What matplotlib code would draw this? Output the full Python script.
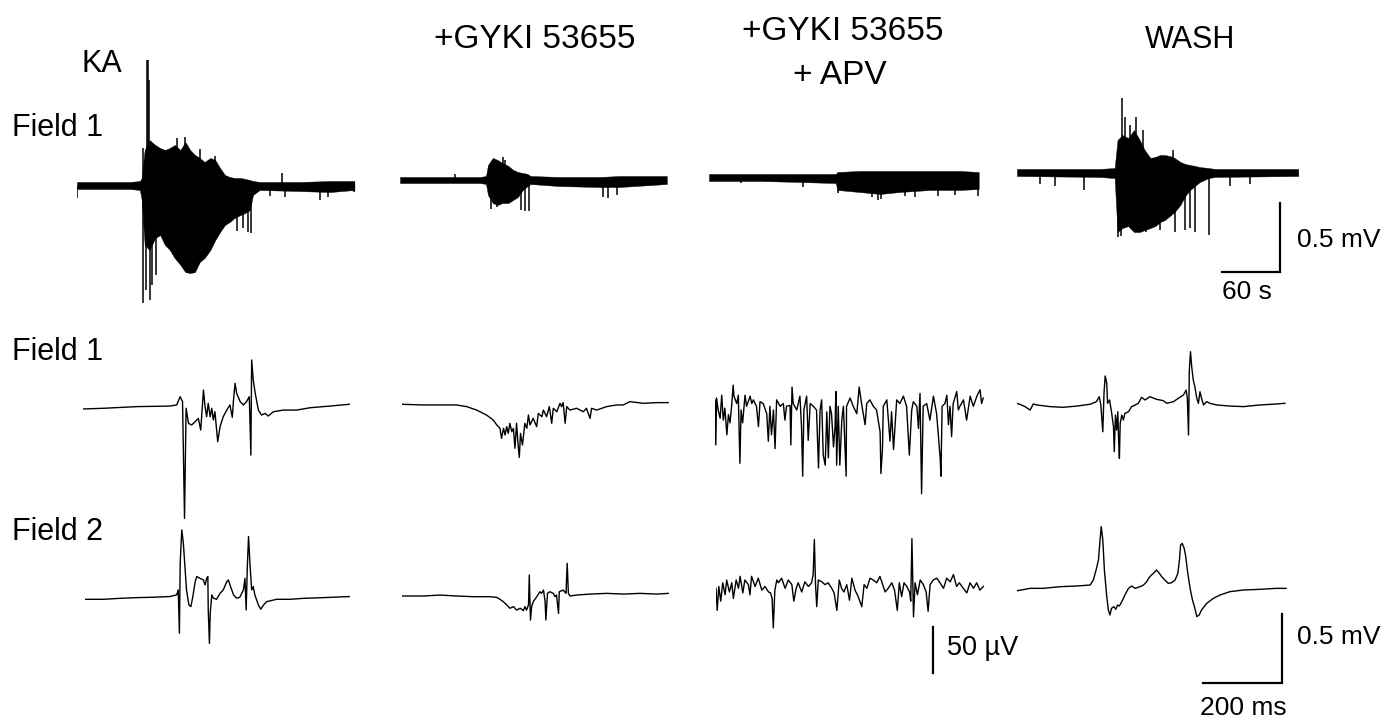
import numpy as np
import matplotlib.pyplot as plt

plt.rcParams['font.family'] = ['Liberation Sans', 'DejaVu Sans']

# ---- top row: slow recordings (time s, field potential uV) ----
# envelope of the dense trace + single large deflections
ka1_t = [0, 24, 55, 65, 67, 70, 75, 81, 86, 91, 96, 101, 107, 112, 117, 122, 127, 132, 138, 143,
         148, 153, 158, 163, 169, 174, 179, 182, 189, 231, 262, 287]
ka1_hi = [22, 22, 22, 29, 51, 254, 326, 290, 268, 254, 268, 290, 254, 312, 254, 218, 196, 167, 196, 181,
          123, 73, 58, 51, 51, 44, 36, 29, 22, 22, 29, 29]
ka1_lo = [-29, -29, -29, -36, -109, -435, -471, -384, -363, -435, -471, -529, -580, -631, -638, -631, -558, -529, -471, -399,
          -341, -290, -268, -239, -218, -203, -181, -73, -36, -44, -51, -36]
ka1_spk_t = [72.5, 73.5, 74.5, 68, 71, 75.5, 77.5, 82, 68, 103, 112, 127, 143, 212, 166, 172, 177, 180, 0, 200, 215, 251, 260, 287]
ka1_spk_v = [906, 906, 761, -856, -761, -834, -725, -653, 268, 341, 348, 261, 210, 87, -333, -312, -341, -348, -94, -80, -87, -109, -87, -51]

gy1_t = [0, 83, 89, 91, 96, 101, 106, 112, 117, 122, 127, 132, 135, 165, 207, 227, 276]
gy1_hi = [22, 22, 29, 109, 160, 145, 123, 102, 73, 58, 51, 44, 29, 22, 22, 29, 29]
gy1_lo = [-22, -22, -29, -109, -167, -181, -167, -167, -145, -123, -73, -44, -29, -44, -51, -51, -29]
gy1_spk_t = [94, 100, 106.5, 109, 125, 129, 133, 210, 215, 224, 57]
gy1_spk_v = [-210, -196, 167, 145, -218, -225, -225, -123, -131, -109, 44]

apv1_t = [0, 53, 94, 131, 133, 156, 177, 197, 229, 260, 279]
apv1_hi = [22, 22, 22, 22, 36, 44, 44, 44, 44, 44, 36]
apv1_lo = [-29, -29, -36, -44, -94, -109, -123, -109, -94, -94, -87]
apv1_spk_t = [97, 133, 169, 175, 178, 203, 213, 237, 254, 278, 33]
apv1_spk_v = [-73, -116, -145, -167, -160, -138, -145, -138, -131, -138, -44]

wash1_t = [0, 86, 101, 104, 109, 115, 121, 127, 132, 138, 143, 148, 153, 158, 163, 169, 174, 179, 184, 189, 198, 205, 291]
wash1_hi = [22, 22, 29, 232, 268, 246, 304, 232, 160, 102, 109, 123, 123, 116, 102, 73, 58, 51, 44, 36, 29, 22, 22]
wash1_lo = [-29, -36, -44, -435, -406, -392, -435, -435, -421, -406, -392, -363, -348, -319, -290, -239, -174, -131, -102, -73, -44, -36, -29]
wash1_spk_t = [109, 112, 123, 117, 130, 104, 108, 133, 148, 163, 174, 179, 184, 199, 69, 39, 24, 220, 241, 161]
wash1_spk_v = [537, 399, 399, 341, 304, -471, -464, -435, -421, -435, -421, -406, -435, -457, -131, -101, -87, -101, -87, 160]

# ---- rows 2-3: single events (time ms, uV) ----
ka2_t = [0, 52, 136, 220, 237, 246, 252, 257, 261, 267, 275, 284, 292, 298, 305, 309, 313, 317, 322, 326,
         330, 334, 341, 347, 355, 364, 372, 378, 381, 385, 389, 398, 406, 414, 421, 425, 427, 431, 436, 444,
         452, 461, 469, 482, 507, 541, 575, 625, 674]
ka2_v = [-7, -2, 10, 14, 22, 82, 46, -800, -2, -111, -123, -99, -75, -160, 130, 10, -63, 34, -63, -2,
         -87, -27, -244, -135, -63, -15, 22, -68, 58, 179, 106, 46, 22, 46, 82, -341, 348, 203, 106, -15,
         -51, -39, -58, -27, -15, -15, 2, 14, 27]

gy2_t = [0, 54, 96, 138, 164, 189, 214, 231, 240, 248, 252, 257, 261, 265, 269, 273, 278, 282, 286, 290,
         294, 297, 300, 305, 311, 316, 320, 324, 332, 341, 345, 354, 358, 366, 373, 379, 383, 392, 400, 404,
         408, 413, 417, 425, 442, 459, 467, 476, 480, 493, 518, 543, 560, 577, 611, 645, 674]
gy2_v = [-2, -7, -7, -7, -19, -44, -80, -116, -152, -176, -249, -176, -225, -164, -213, -140, -201, -176, -321, -140,
         -297, -387, -213, -297, -140, -176, -80, -152, -104, -164, -68, -92, -44, -92, -19, -140, -31, -56, 5, -19,
         10, -140, -19, -44, -31, -56, -31, -104, -31, -44, -19, -7, -7, 17, 5, 10, 10]

apv2_t = [0, 2, 4, 8, 13, 17, 21, 25, 30, 34, 38, 42, 46, 48, 55, 59, 63, 66, 70, 76,
          80, 89, 93, 97, 105, 110, 114, 122, 131, 135, 139, 143, 148, 152, 156, 165, 173, 177, 181, 190,
          192, 195, 198, 207, 215, 219, 222, 225, 232, 236, 241, 249, 257, 262, 266, 270, 274, 279, 283, 287,
          291, 295, 300, 304, 306, 308, 312, 316, 321, 325, 332, 333, 342, 350, 359, 365, 371, 380, 384, 392,
          401, 409, 418, 420, 424, 426, 435, 443, 447, 452, 460, 468, 477, 485, 492, 498, 502, 511, 515, 519,
          523, 527, 536, 544, 553, 561, 565, 570, 572, 575, 582, 587, 591, 595, 599, 603, 612, 616, 620, 629,
          637, 646, 654, 663, 671, 675, 679]
apv2_v = [2, -47, 4, -9, -18, 7, -20, -7, -36, -14, -23, -5, 18, 6, -2, 7, -67, -9, -23, 7,
          -5, 6, -2, 2, -5, -27, 0, -2, -13, -43, -5, -36, -9, -51, 2, -5, -2, -20, -5, -4,
          -47, 16, -2, -9, 6, -27, -81, -9, 6, -42, -2, -5, -9, -72, -9, 2, -58, -69, -11, -61,
          -5, -13, -49, -27, 11, -69, -5, -69, -20, -5, -81, -5, 4, -5, -13, 16, -2, -25, -2, 2,
          -5, -9, -33, -78, -51, -5, 2, -43, -11, -52, 2, -2, 6, -5, -58, -9, 0, -5, -29, 9,
          -100, -5, -2, -20, 6, -13, -34, -61, -81, -5, -2, 7, -25, -5, -38, -2, 11, -9, -5, 2,
          -20, 6, -5, 6, 13, -2, 4]

wash2_t = [0, 8, 21, 34, 42, 51, 84, 118, 152, 186, 202, 209, 213, 218, 221, 224, 228, 230, 235, 240,
           245, 247, 250, 253, 256, 258, 260, 262, 266, 270, 274, 283, 291, 300, 308, 316, 325, 337, 354, 371,
           380, 397, 409, 422, 429, 432, 435, 437, 440, 443, 447, 451, 456, 460, 464, 468, 473, 481, 489, 506,
           540, 574, 616, 658, 679]
wash2_v = [0, -7, -24, -49, -5, -12, -24, -29, -20, -7, 12, 48, -12, -206, 72, 198, 145, 0, 24, -61,
           -169, -351, -85, -194, -61, -266, -399, -145, -85, -121, -73, -61, -24, -12, 0, 43, 24, 48, 29, 19,
           0, 12, 36, 60, 96, 36, -230, 241, 374, 266, 169, 121, 36, 0, 84, 36, -12, 12, 0, -12,
           -20, -24, -12, -5, 0]

ka3_t = [0, 46, 89, 131, 173, 215, 232, 236, 239, 241, 245, 249, 253, 257, 263, 268, 273, 279, 283, 291,
         300, 304, 308, 311, 312, 315, 317, 321, 325, 333, 342, 350, 359, 363, 367, 376, 384, 392, 401, 405,
         408, 411, 414, 418, 422, 426, 430, 439, 445, 452, 460, 485, 519, 553, 603, 669]
ka3_v = [0, 0, 7, 12, 15, 20, 32, 68, -246, 261, 503, 406, 237, 68, -41, -53, 20, 128, 165, 152,
         140, 104, 152, 165, -77, -319, -101, 32, 8, 0, 44, 68, 128, 140, 104, 32, 8, 15, 68, 152,
         -77, 237, 455, 237, 68, 92, 32, -41, -72, -41, -17, 0, 0, 7, 12, 20]

gy3_t = [0, 55, 97, 139, 181, 224, 241, 249, 257, 266, 274, 283, 291, 300, 308, 312, 316, 321, 323, 326,
         329, 333, 342, 350, 354, 359, 363, 365, 369, 375, 384, 388, 392, 397, 399, 409, 416, 419, 422, 426,
         443, 477, 519, 561, 603, 646, 675]
gy3_v = [0, 0, 7, 0, -5, -5, -10, -24, -41, -65, -89, -77, -102, -89, -106, -77, -102, -65, 152, -174,
         -77, -41, -5, 31, 19, 43, -41, -174, 19, 31, 19, -5, 7, -126, 31, 43, 19, 237, 19, 0,
         7, 14, 19, 14, 19, 14, 19]

apv3_t = [0, 3, 7, 12, 17, 23, 27, 34, 40, 44, 51, 57, 61, 68, 73, 82, 86, 90, 99, 107,
          116, 124, 133, 138, 142, 145, 149, 154, 158, 166, 175, 183, 192, 197, 203, 208, 217, 225, 234, 242,
          246, 249, 252, 255, 259, 268, 276, 284, 293, 299, 306, 312, 318, 324, 331, 338, 344, 352, 360, 369,
          375, 382, 390, 398, 407, 415, 422, 428, 436, 445, 452, 459, 464, 470, 476, 483, 490, 493, 496, 500,
          504, 510, 517, 525, 532, 537, 542, 550, 559, 567, 576, 584, 593, 601, 609, 616, 626, 635, 643, 652,
          660, 668, 677]
apv3_v = [0, -24, 2, -14, 6, -7, 9, -4, 6, -11, 9, 0, 13, -5, 9, 4, -7, 13, 2, 11,
          -2, 2, -4, -5, -11, -43, -2, 9, 6, 11, 0, 9, 4, -14, 0, 6, -4, 7, 2, 6,
          15, 53, 4, -20, 9, 7, 4, 6, 0, -5, -24, 9, 0, -4, 4, -13, 11, -2, -9, -20,
          4, 0, 11, 9, 6, 13, 4, -4, 0, 6, -2, -24, 6, -9, 6, 2, -4, -14, 54, -31,
          6, -7, 9, 4, -4, -25, 4, 9, 11, 6, 0, 11, 7, 15, 2, 6, 0, -5, 6, 0,
          6, -2, 2]

wash3_t = [0, 34, 67, 110, 152, 186, 194, 201, 207, 211, 214, 218, 222, 228, 232, 236, 240, 246, 251, 255,
           260, 266, 274, 283, 291, 300, 312, 321, 329, 337, 346, 354, 361, 367, 375, 384, 392, 401, 408, 412,
           415, 419, 424, 428, 432, 439, 445, 450, 456, 462, 468, 481, 498, 515, 540, 574, 616, 658, 682]
wash3_v = [-6, 12, 12, 24, 29, 36, 72, 145, 217, 362, 459, 362, 145, -48, -145, -181, -133, -121, -140, -109,
           -116, -85, -36, 12, 29, 12, 24, 36, 60, 97, 121, 145, 121, 97, 72, 48, 53, 72, 121, 217,
           326, 338, 302, 242, 145, 12, -73, -121, -193, -181, -145, -97, -60, -36, -12, 0, 5, 12, 12]

W, H = 1394, 724
fig = plt.figure(figsize=(13.94, 7.24), dpi=100)


def panel(x0, y0, px_per_t, px_per_v, w=310, h=400):
    # trace starts at pixel x0, zero level at pixel y0
    ax = fig.add_axes([x0 / W, 1 - (y0 + h / 2) / H, w / W, h / H])
    ax.set_xlim(0, w / px_per_t)
    ax.set_ylim(-(h / 2) / px_per_v, (h / 2) / px_per_v)
    ax.axis('off')
    ax.patch.set_visible(False)
    return ax


# slow traces: 60 s = 58 px, 0.5 mV = 69 px
S_T, S_V = 58 / 60, 69 / 500
top = [(77, 185, ka1_t, ka1_hi, ka1_lo, ka1_spk_t, ka1_spk_v),
       (400, 180, gy1_t, gy1_hi, gy1_lo, gy1_spk_t, gy1_spk_v),
       (709, 177, apv1_t, apv1_hi, apv1_lo, apv1_spk_t, apv1_spk_v),
       (1017, 172, wash1_t, wash1_hi, wash1_lo, wash1_spk_t, wash1_spk_v)]
for x0, y0, t, hi, lo, st, sv in top:
    ax = panel(x0, y0, S_T, S_V)
    ax.fill_between(t, lo, hi, color='k', lw=0.3)
    ax.vlines(st, 0, sv, color='k', lw=1.1)
ax_top = ax
ax_top.plot([212, 272, 272], [-725, -725, -225], color='k', lw=1.6, solid_joinstyle='miter')

# fast traces: 200 ms = 79 px, 0.5 mV = 69 px (APV column: 50 uV = 46 px)
F_T, F_V, F_V_APV = 79 / 200, 69 / 500, 46 / 50
rows = [(83, 408, ka2_t, ka2_v, F_V), (402, 404, gy2_t, gy2_v, F_V),
        (715, 401.7, apv2_t, apv2_v, F_V_APV), (1016.7, 403.3, wash2_t, wash2_v, F_V),
        (85, 599.3, ka3_t, ka3_v, F_V), (401.7, 596, gy3_t, gy3_v, F_V),
        (716, 588.3, apv3_t, apv3_v, F_V_APV), (1016.7, 590, wash3_t, wash3_v, F_V)]
axs = []
for x0, y0, t, v, sv in rows:
    ax = panel(x0, y0, F_T, sv)
    ax.plot(t, v, color='k', lw=1.0)
    axs.append(ax)
axs[6].plot([549, 549], [-42, -92], color='k', lw=1.6)
axs[7].plot([472, 672, 672], [-674, -674, -174], color='k', lw=1.6, solid_joinstyle='miter')

# labels
def label(x, y, s, size, ha='left'):
    fig.text(x / W, 1 - y / H, s, fontsize=size, ha=ha, va='center')

label(82, 64, 'KA', 22)
label(535, 40, '+GYKI 53655', 24, 'center')
label(843, 31, '+GYKI 53655', 24, 'center')
label(840, 75, '+ APV', 24, 'center')
label(1190, 40, 'WASH', 22, 'center')
label(12, 128, 'Field 1', 22)
label(12, 352, 'Field 1', 22)
label(12, 532, 'Field 2', 22)
label(1297, 240, '0.5 mV', 19)
label(1222, 292, '60 s', 19)
label(947, 648, '50 \u00b5V', 19.5)
label(1297, 637, '0.5 mV', 19)
label(1200, 708, '200 ms', 19)

fig.savefig('out.png', dpi=100)
